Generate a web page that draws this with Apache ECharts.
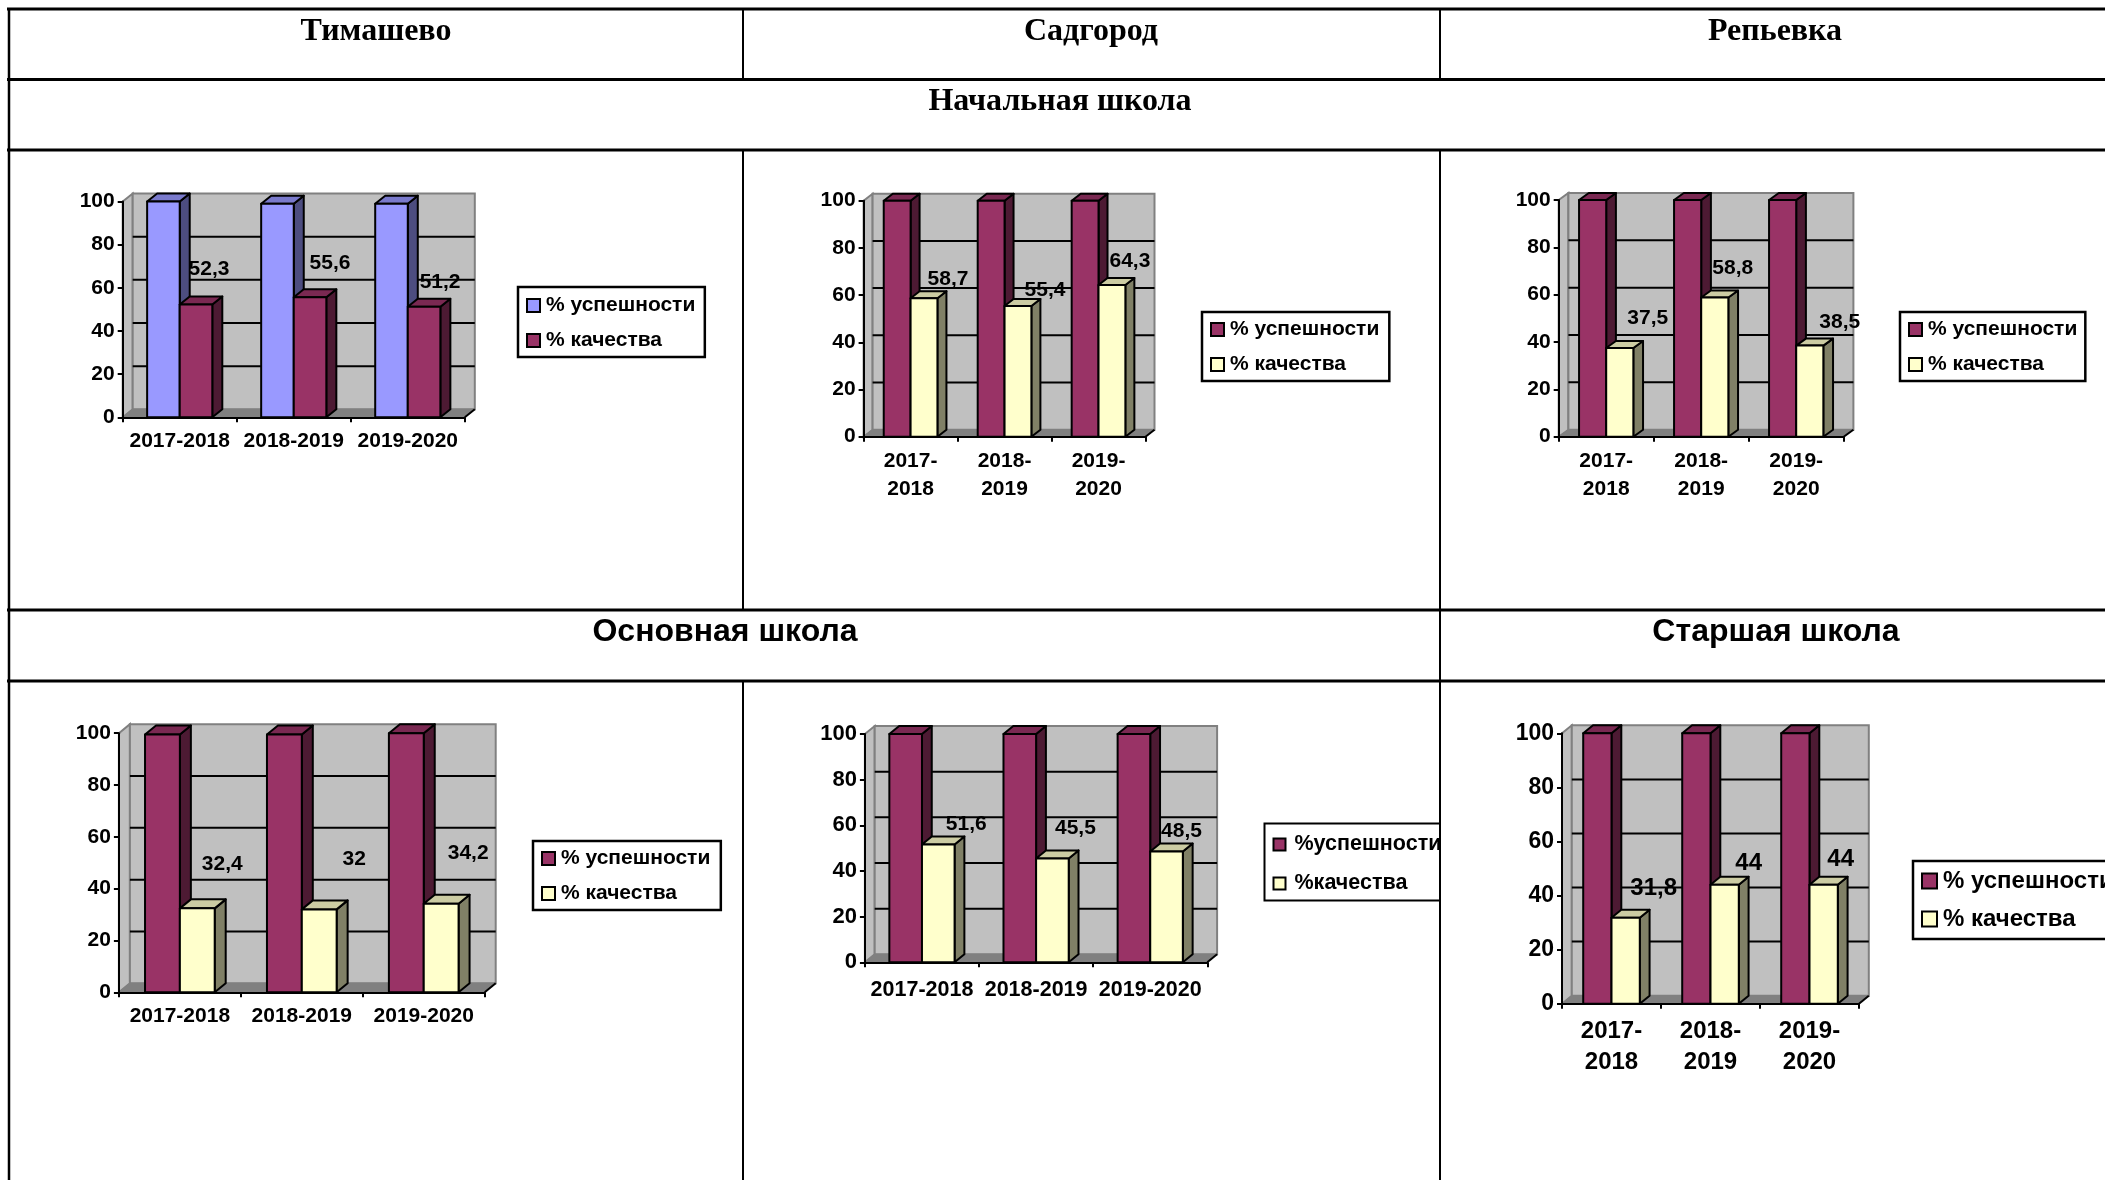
<!DOCTYPE html>
<html><head><meta charset="utf-8">
<style>html,body{margin:0;padding:0;background:#fff}#c{width:2105px;height:1180px}</style>
<script src="https://cdn.jsdelivr.net/npm/echarts@6/dist/echarts.min.js"></script>
</head><body><div id="c"></div>
<script>
// ---------- data ----------
const years = ['2017-2018', '2018-2019', '2019-2020'];
const yTicks = [0, 20, 40, 60, 80, 100];
const columnTitles = ['Тимашево', 'Садгород', 'Репьевка'];
const sectionTitles = ['Начальная школа', 'Основная школа', 'Старшая школа'];
const namesDefault = ['% успешности', '% качества'];
const namesSpaced = ['%успешности', '%качества'];

const timPrimarySuccess = [100, 99, 99];
const timPrimaryQuality = [52.3, 55.6, 51.2];
const sadPrimarySuccess = [100, 100, 100];
const sadPrimaryQuality = [58.7, 55.4, 64.3];
const repPrimarySuccess = [100, 100, 100];
const repPrimaryQuality = [37.5, 58.8, 38.5];
const timBasicSuccess = [99.5, 99.5, 100];
const timBasicQuality = [32.4, 32, 34.2];
const sadBasicSuccess = [100, 100, 100];
const sadBasicQuality = [51.6, 45.5, 48.5];
const repSeniorSuccess = [100, 100, 100];
const repSeniorQuality = [31.8, 44, 44];

// ---------- colours ----------
const PURPLE = {front:'#993366', side:'#4D1A33', top:'#7A2952'};
const LAV = {front:'#9999FF', side:'#4D4D80', top:'#7A7ACC'};
const CREAM = {front:'#FFFFCC', side:'#808066', top:'#CCCCA3'};

// ---------- layout of each chart (pixels) ----------
const charts = [
 {s:timPrimarySuccess,q:timPrimaryQuality,names:namesDefault,c:[LAV,PURPLE],x0:122.7,xE:464.8,y0:417.3,y1:201.5,dx:10,dy:8,wrap:false,fx:21,fy:21,fl:21,xm:13,
  off:[[13,-35],[20,-34],[16,-25]],leg:{x:518,y:287,sw:13,gap:14,pad:[8,9.5,6,8]}},
 {s:sadPrimarySuccess,q:sadPrimaryQuality,names:namesDefault,c:[PURPLE,CREAM],x0:863.6,xE:1145.5,y0:436.7,y1:200.7,dx:9,dy:7,wrap:true,fx:21,fy:21,fl:21,xm:11,
  off:[[24,-19],[27,-16],[18,-24]],leg:{x:1202,y:312,sw:13,gap:14,pad:[7,10,6,8]}},
 {s:repPrimarySuccess,q:repPrimaryQuality,names:namesDefault,c:[PURPLE,CREAM],x0:1558.7,xE:1843.7,y0:436.7,y1:200,dx:9.7,dy:7,wrap:true,fx:21,fy:21,fl:21,xm:11,
  off:[[28,-30],[18,-29],[30,-23]],leg:{x:1900,y:312,sw:13,gap:14,pad:[7,8,6,8]}},
 {s:timBasicSuccess,q:timBasicQuality,names:namesDefault,c:[PURPLE,CREAM],x0:118.9,xE:484.7,y0:992.3,y1:733.2,dx:11,dy:9,wrap:false,fx:21,fy:21,fl:21,xm:13,
  off:[[25,-44],[35,-50],[27,-50]],leg:{x:533,y:841,sw:13,gap:14,pad:[7,10.5,6,8]}},
 {s:sadBasicSuccess,q:sadBasicQuality,names:namesSpaced,c:[PURPLE,CREAM],x0:864.9,xE:1207.3,y0:962.3,y1:734,dx:9.8,dy:8,wrap:false,fx:21.5,fy:22,fl:21,xm:17,
  off:[[28,-20],[23,-30],[15,-20]],leg:{x:1264.5,y:823.5,sw:12,gap:17,pad:[10,11,6,8],swGap:4}},
 {s:repSeniorSuccess,q:repSeniorQuality,names:namesDefault,c:[PURPLE,CREAM],x0:1562,xE:1859,y0:1003.7,y1:733.3,dx:9.8,dy:8,wrap:true,fx:24,fy:23,fl:24,xm:12,
  off:[[28,-29],[24,-21],[17,-25]],leg:{x:1913,y:861,sw:15,gap:14,pad:[8,14,8,8]}}
];

const SANS = '"Liberation Sans", Arial, sans-serif';
const SERIF = '"Liberation Serif", "Times New Roman", serif';
const grid=[],xAxis=[],yAxis=[],series=[],legend=[];

charts.forEach((ch,i)=>{
  grid.push({left:ch.x0,top:ch.y1,width:ch.xE-ch.x0,height:ch.y0-ch.y1,containLabel:false});
  xAxis.push({type:'category',gridIndex:i,data:years,z:3,
    axisLine:{show:true,onZero:false,lineStyle:{color:'#000',width:2}},
    axisTick:{show:true,alignWithLabel:false,length:5,lineStyle:{color:'#000',width:2}},
    axisLabel:{color:'#000',fontFamily:SANS,fontWeight:'bold',fontSize:ch.fx,interval:0,margin:ch.xm,lineHeight:ch.wrap?(ch.fx>22?31:28):ch.fx,
      hideOverlap:false,
      formatter:v=>ch.wrap?v.replace('-','-\n'):v}});
  yAxis.push({type:'value',gridIndex:i,min:0,max:100,interval:20,z:3,
    axisLine:{show:true,lineStyle:{color:'#000',width:2}},
    axisTick:{show:true,length:5,lineStyle:{color:'#000',width:2}},
    splitLine:{show:false},
    axisLabel:{color:'#000',fontFamily:SANS,fontWeight:'bold',fontSize:ch.fy,margin:8}});

  // walls, floor and gridlines
  series.push({type:'custom',xAxisIndex:i,yAxisIndex:i,z:1,silent:true,clip:false,
    data:[[0,0]],
    renderItem:(p,api)=>{
      const yv=v=>api.coord([0,v])[1];
      const L=p.coordSys.x,R=L+p.coordSys.width,B=yv(0),T=yv(100),dx=ch.dx,dy=ch.dy;
      const kids=[
        {type:'polygon',shape:{points:[[L,T],[L+dx,T-dy],[L+dx,B-dy],[L,B]]},style:{fill:'#C0C0C0',stroke:'#808080',lineWidth:2}},
        {type:'rect',shape:{x:L+dx,y:T-dy,width:R-L,height:B-T},style:{fill:'#C0C0C0',stroke:'#808080',lineWidth:2}}
      ];
      yTicks.filter(v=>v>0&&v<100).forEach(v=>kids.push({type:'line',shape:{x1:L+dx,y1:yv(v)-dy,x2:R+dx,y2:yv(v)-dy},style:{stroke:'#000',lineWidth:2}}));
      kids.push({type:'polygon',shape:{points:[[L,B],[R,B],[R+dx,B-dy],[L+dx,B-dy]]},style:{fill:'#808080',stroke:'#808080',lineWidth:1}});
      kids.push({type:'line',shape:{x1:R,y1:B,x2:R+dx,y2:B-dy},style:{stroke:'#000',lineWidth:2}});
      return {type:'group',children:kids};
    }});

  // the two bar series
  [ch.s,ch.q].forEach((vals,si)=>{
    const col=ch.c[si];
    series.push({type:'custom',name:ch.names[si],xAxisIndex:i,yAxisIndex:i,z:4+si,silent:true,clip:false,
      encode:{x:0,y:1},
      data:vals.map((v,k)=>[k,v]),
      renderItem:(p,api)=>{
        const c=api.value(0),v=api.value(1);
        const top=api.coord([c,v]),base=api.coord([c,0]);
        const bw=api.size([1,0])[0]/3.5;
        const x1=top[0]+(si-1)*bw,x2=x1+bw,yT=top[1],yB=base[1],dx=ch.dx,dy=ch.dy;
        const st=f=>({fill:f,stroke:'#000',lineWidth:2,lineJoin:'round'});
        return {type:'group',children:[
          {type:'polygon',shape:{points:[[x2,yT],[x2+dx,yT-dy],[x2+dx,yB-dy],[x2,yB]]},style:st(col.side)},
          {type:'polygon',shape:{points:[[x1,yT],[x1+dx,yT-dy],[x2+dx,yT-dy],[x2,yT]]},style:st(col.top)},
          {type:'rect',shape:{x:x1,y:yT,width:bw,height:yB-yT},style:st(col.front)}
        ]};
      }});
  });

  // value labels of the quality series
  series.push({type:'custom',xAxisIndex:i,yAxisIndex:i,z:8,silent:true,clip:false,
    encode:{x:0,y:1},
    data:ch.q.map((v,k)=>[k,v]),
    renderItem:(p,api)=>{
      const k=api.value(0),v=api.value(1);
      const pt=api.coord([k,v]),bw=api.size([1,0])[0]/3.5,o=ch.off[k];
      return {type:'text',style:{text:String(v).replace('.',','),x:pt[0]+bw/2+o[0],y:pt[1]+o[1],
        align:'center',verticalAlign:'middle',fill:'#000',font:'bold '+ch.fl+'px '+SANS}};
    }});

  const lg=ch.leg;
  legend.push({orient:'vertical',left:lg.x,top:lg.y,padding:lg.pad,itemGap:lg.gap,itemWidth:lg.sw,itemHeight:lg.sw,
    backgroundColor:'#fff',borderColor:'#000',borderWidth:i===4?2:2.5,selectedMode:false,icon:'rect',z:6,
    textStyle:{color:'#000',fontFamily:SANS,fontWeight:'bold',fontSize:ch.fx,padding:[0,0,0,lg.swGap||1]},
    data:ch.names.map((n,si)=>({name:n,icon:'rect',itemStyle:{color:ch.c[si].front,borderColor:'#000',borderWidth:2}}))});
});

// ---------- table ----------
const hLines=[9,79.5,150,610,681];
const lineEls=hLines.map(y=>({type:'line',z:100,shape:{x1:7,y1:y,x2:2105,y2:y},style:{stroke:'#000',lineWidth:3}}));
[[9,9,1180,2.5],[743,9,79,2],[743,150,610,2],[743,681,1180,2],[1440,9,79,2],[1440,150,610,2],[1440,610,681,2],[1440,681,1180,2]]
 .forEach(a=>lineEls.push({type:'line',z:100,shape:{x1:a[0],y1:a[1],x2:a[0],y2:a[2]},style:{stroke:'#000',lineWidth:a[3]}}));
// the legend of the middle chart is cut off by its table cell
lineEls.unshift({type:'rect',z:90,shape:{x:1441,y:810,width:40,height:100},style:{fill:'#fff'}});

const title=[
 {text:columnTitles[0],left:376,top:32.5,font:SERIF,size:32},
 {text:columnTitles[1],left:1091,top:32.5,font:SERIF,size:32},
 {text:columnTitles[2],left:1775,top:32.5,font:SERIF,size:32},
 {text:sectionTitles[0],left:1060,top:102.5,font:SERIF,size:32},
 {text:sectionTitles[1],left:725,top:633,font:SANS,size:32},
 {text:sectionTitles[2],left:1776,top:633,font:SANS,size:32}
].map(t=>({text:t.text,left:t.left,top:t.top-t.size/2-1,textAlign:'center',padding:0,
  textStyle:{color:'#000',fontFamily:t.font,fontWeight:'bold',fontSize:t.size}}));

const chart=echarts.init(document.getElementById('c'));
chart.setOption({animation:false,backgroundColor:'#fff',title,grid,xAxis,yAxis,series,legend,tooltip:{show:false},graphic:{elements:lineEls}});
</script></body></html>
